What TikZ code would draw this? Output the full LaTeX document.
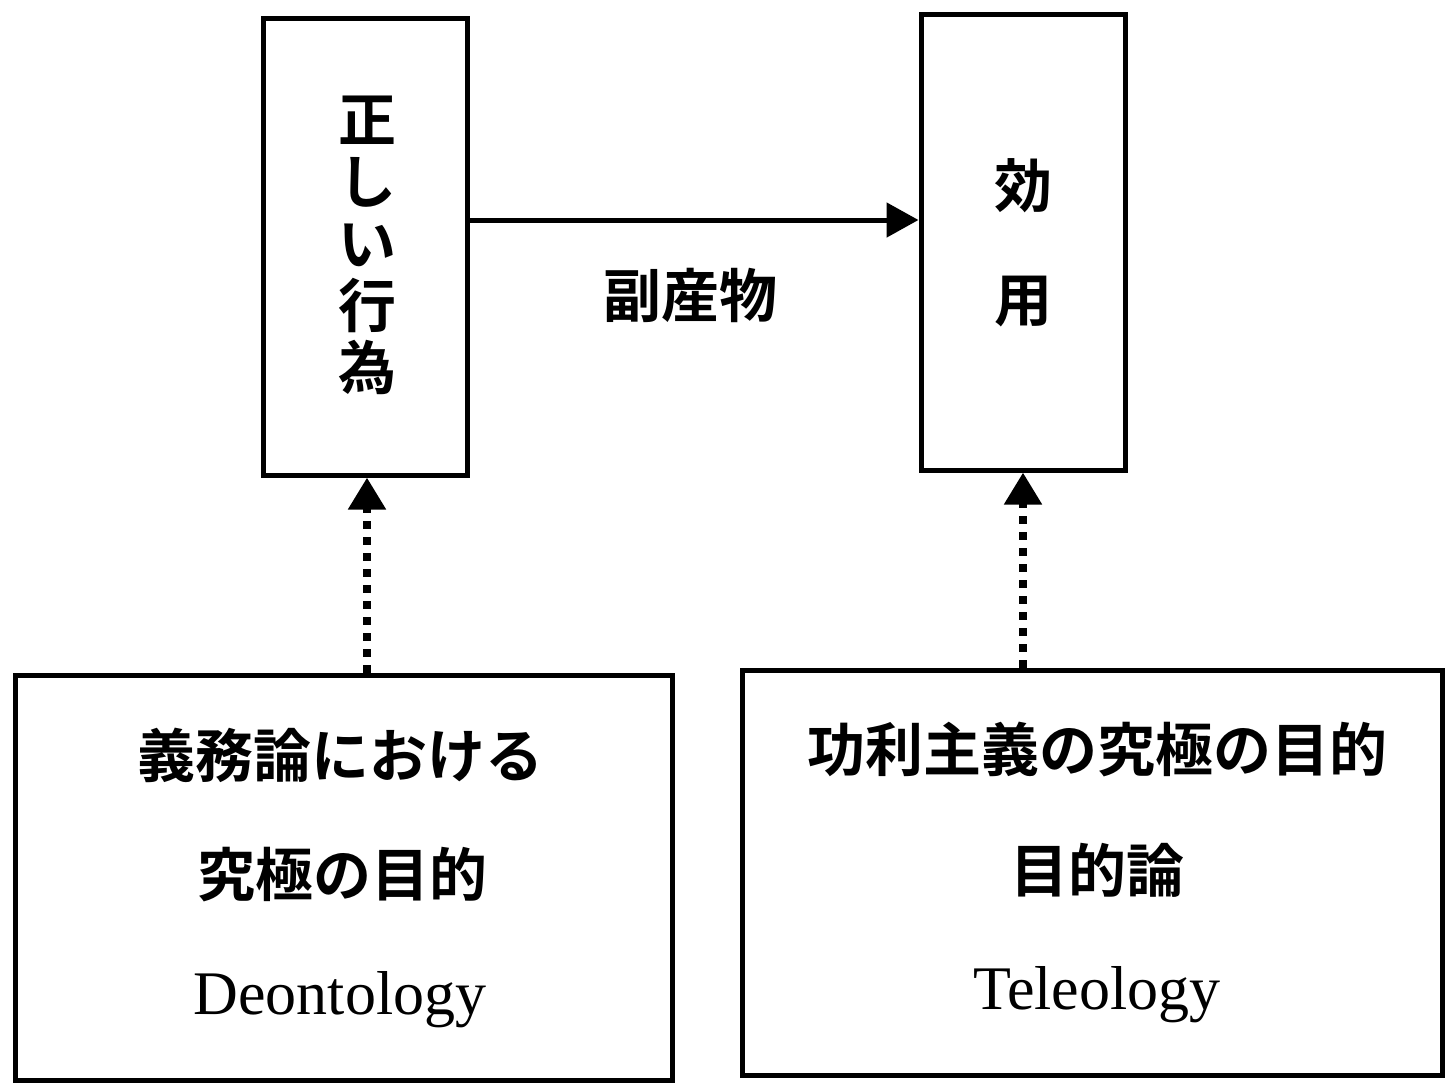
\documentclass[tikz,border=0pt]{standalone}
\usepackage{fontspec}
\setmainfont{Liberation Serif}
\newfontfamily\jp{Noto Sans CJK JP Bold}
\usetikzlibrary{arrows.meta}
\begin{document}
\begin{tikzpicture}[x=0.5pt,y=-0.5pt,
  boxst/.style={draw=black,line width=2.5pt,fill=white,inner sep=0pt},
  jpt/.style={font=\jp\fontsize{29pt}{30pt}\selectfont,inner sep=0pt},
  ent/.style={font=\fontsize{31pt}{32pt}\selectfont,inner sep=0pt},
  solidarrow/.style={line width=2.5pt,-{Triangle[length=16pt,width=17pt]}},
  dotarrow/.style={line width=4pt,dash pattern=on 4pt off 4pt,-{Triangle[length=16pt,width=18pt]}}]
\useasboundingbox (0,0) rectangle (1446,1088);
\fill[white] (0,0) rectangle (1446,1088);
% boxes
\node[boxst,minimum width=102pt,minimum height=228.5pt] (A) at (365,246.5) {};
\node[boxst,minimum width=102pt,minimum height=228pt] (B) at (1023,242) {};
\node[boxst,minimum width=328.5pt,minimum height=202.5pt] (C) at (343.5,877.5) {};
\node[boxst,minimum width=350pt,minimum height=202.5pt] (D) at (1092,872.5) {};
% texts
\node[jpt,align=center] (tA) at (367,245) {正\\[1pt]し\\[1pt]い\\[1pt]行\\[1pt]為};
\node[jpt] (tB1) at (1023,186) {効};
\node[jpt] (tB2) at (1023,302) {用};
\node[jpt] (lab) at (690,295) {副産物};
\node[jpt] (c1) at (340,755) {義務論における};
\node[jpt] (c2) at (342,875) {究極の目的};
\node[ent,anchor=base] (c3) at (340,1014) {Deontology};
\node[jpt] (d1) at (1097,750) {功利主義の究極の目的};
\node[jpt] (d2) at (1097,870) {目的論};
\node[ent,anchor=base] (d3) at (1097,1009) {Teleology};
% connectors
\draw[solidarrow] (A.east |- 0,220) -- (B.west |- 0,220);
\draw[dotarrow] (C.north -| 367,0) -- (A.south -| 367,0);
\draw[dotarrow] (D.north -| 1023,0) -- (B.south -| 1023,0);
\end{tikzpicture}
\end{document}
